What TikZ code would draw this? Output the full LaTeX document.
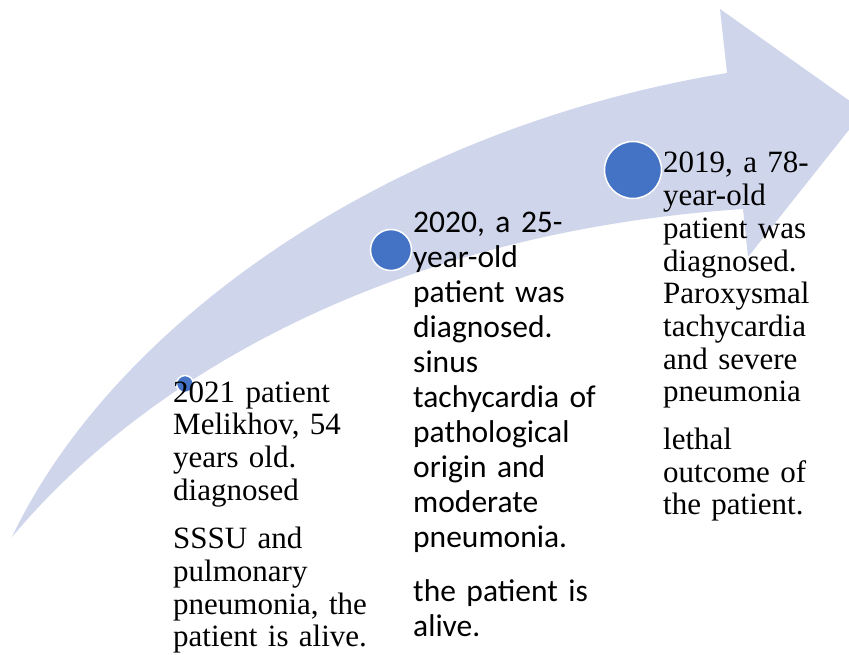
\documentclass[tikz,border=0pt]{standalone}
\usepackage{fontspec}
\setmainfont{Liberation Serif}
\newfontfamily\calibri{Carlito}
\definecolor{arrowfill}{HTML}{CFD5EA}
\definecolor{dotblue}{HTML}{4472C4}
\begin{document}
\begin{tikzpicture}[x=1pt,y=-1pt,
	dot/.style={circle,fill=dotblue,draw=white,line width=1.5pt,inner sep=0pt,minimum size=#1},
	entry/.style={anchor=base west,inner sep=0pt,text width=#1,align=left},
	serif/.style={font=\fontsize{31}{32.7}\selectfont},
	sans/.style={font=\calibri\fontsize{31.5}{34.9}\selectfont}]
	\useasboundingbox (0,0) rectangle (849,655);
	\clip (0,0) rectangle (849,655);
	\path 
	(12,537) coordinate (T)
	(727,73) coordinate (N1)
	(720,9) coordinate (H1)
	(864,111) coordinate (P)
	(748,257) coordinate (H2)
	(743,209) coordinate (N2)
	;
	% curved arrow
	\fill[arrowfill] (T) .. controls (110,330) and (380,130) .. (N1) -- (H1) -- (P)
		-- (H2) -- (N2) .. controls (400,232) and (150,372) .. (T) -- cycle;
	\foreach \n/\x/\y/\d in {d2021/185/384/17,d2020/391/250/41,d2019/633/170/57}{
		\node[dot=\d pt] (\n) at (\x,\y) {};
	}
	\node[entry=200pt,serif] (t2021) at (173,402) {2021 patient\\ Melikhov, 54\\ years old.\\ diagnosed\\[16pt] SSSU and\\ pulmonary\\ pneumonia, the\\ patient is alive.};
	\node[entry=200pt,sans] (t2020) at (413,233) {2020, a 25-\\ year-old\\ patient was\\ diagnosed.\\ sinus\\ tachycardia of\\ pathological\\ origin and\\ moderate\\ pneumonia.\\[20pt] the patient is\\ alive.};
	\node[entry=180pt,serif] (t2019) at (663,173) {2019, a 78-\\ year-old\\ patient was\\ diagnosed.\\ Paroxysmal\\ tachycardia\\ and severe\\ pneumonia\\[15pt] lethal\\ outcome of\\ the patient.};
\end{tikzpicture}
\end{document}
